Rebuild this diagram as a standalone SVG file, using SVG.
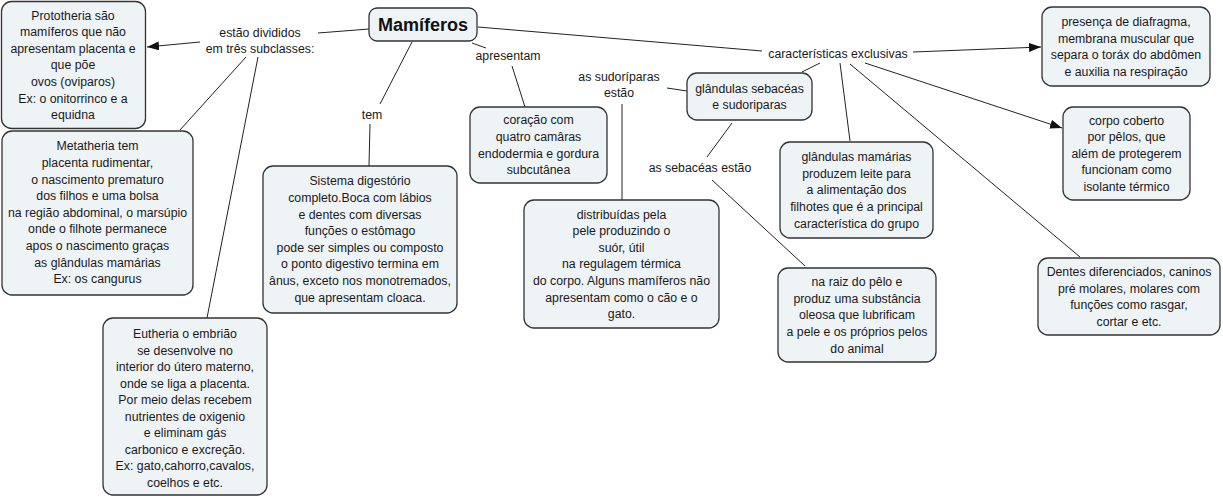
<svg xmlns="http://www.w3.org/2000/svg" width="1223" height="498" viewBox="0 0 1223 498">
<style>
.box{fill:#eef3f6;stroke:#333;stroke-width:1.3}
.t{font-family:"Liberation Sans",Arial,sans-serif;font-size:12.3px;fill:#1a1a1a;text-anchor:middle}
.title{font-family:"Liberation Sans",Arial,sans-serif;font-size:18px;font-weight:bold;fill:#111;text-anchor:middle}
.c{stroke:#222;stroke-width:1;fill:none}
.a{marker-end:url(#arr)}
</style>
<defs>
<marker id="arr" markerUnits="userSpaceOnUse" markerWidth="13" markerHeight="10" refX="12" refY="4.5" orient="auto">
<path d="M0,0 L12,4.5 L0,9 z" fill="#111"/>
</marker>
</defs>
<rect width="1223" height="498" fill="#fff"/>
<g id="connectors">
<line class="c" x1="369" y1="29" x2="318" y2="33"/>
<line class="c a" x1="200" y1="42" x2="147" y2="47"/>
<line class="c" x1="246" y1="57" x2="180" y2="130"/>
<line class="c" x1="258" y1="57" x2="207" y2="318"/>
<line class="c" x1="412" y1="42" x2="380" y2="104"/>
<line class="c" x1="370" y1="124" x2="369" y2="166"/>
<line class="c" x1="472" y1="43" x2="486" y2="48"/>
<line class="c" x1="512" y1="66" x2="525" y2="107"/>
<line class="c" x1="478" y1="27" x2="762" y2="51"/>
<line class="c" x1="820" y1="63" x2="802" y2="72"/>
<line class="c" x1="687" y1="91" x2="667" y2="88"/>
<line class="c" x1="622" y1="104" x2="622" y2="200"/>
<line class="c" x1="732" y1="123" x2="707" y2="157"/>
<line class="c" x1="712" y1="180" x2="805" y2="266"/>
<line class="c a" x1="913" y1="52" x2="1041" y2="47"/>
<line class="c a" x1="865" y1="63" x2="1062" y2="128"/>
<line class="c" x1="840" y1="63" x2="850" y2="141"/>
<line class="c" x1="850" y1="64" x2="1080" y2="257"/>
</g>
<g id="mamiferos">
<rect class="box" x="369" y="8" width="108" height="33" rx="8"/>
<text class="title" x="423" y="31">Mamíferos</text>
</g>
<g id="label-divididos">
<text class="t" x="260" y="36.5">estão divididos<tspan x="260" dy="16.2">em três subclasses:</tspan></text>
</g>
<g id="label-tem"><text class="t" x="372" y="119">tem</text></g>
<g id="label-apresentam"><text class="t" x="508" y="60">apresentam</text></g>
<g id="label-sudoriparas"><text class="t" x="619" y="81">as sudoríparas<tspan x="619" dy="16.2">estão</tspan></text></g>
<g id="label-sebaceas"><text class="t" x="700" y="172">as sebacéas estão</text></g>
<g id="label-exclusivas"><text class="t" x="838" y="58">características exclusivas</text></g>
<g id="prototheria">
<rect class="box" x="1.5" y="1.5" width="144" height="127" rx="10"/>
<text class="t" x="73" y="19.5">Prototheria são<tspan x="73" dy="16.6">mamíferos que não</tspan><tspan x="73" dy="16.6">apresentam placenta e</tspan><tspan x="73" dy="16.6">que põe</tspan><tspan x="73" dy="16.6">ovos (oviparos)</tspan><tspan x="73" dy="16.6">Ex: o onitorrinco e a</tspan><tspan x="73" dy="16.6">equidna</tspan></text>
</g>
<g id="metatheria">
<rect class="box" x="2" y="131" width="191" height="164" rx="10"/>
<text class="t" x="97.5" y="150.3">Metatheria tem<tspan x="97.5" dy="16.6">placenta rudimentar,</tspan><tspan x="97.5" dy="16.6">o nascimento prematuro</tspan><tspan x="97.5" dy="16.6">dos filhos e uma bolsa</tspan><tspan x="97.5" dy="16.6">na região abdominal, o marsúpio</tspan><tspan x="97.5" dy="16.6">onde o filhote permanece</tspan><tspan x="97.5" dy="16.6">apos o nascimento graças</tspan><tspan x="97.5" dy="16.6">as glândulas mamárias</tspan><tspan x="97.5" dy="16.6">Ex: os cangurus</tspan></text>
</g>
<g id="eutheria">
<rect class="box" x="103" y="318" width="164" height="177" rx="10"/>
<text class="t" x="185" y="338.3">Eutheria o embrião<tspan x="185" dy="16.5">se desenvolve no</tspan><tspan x="185" dy="16.5">interior do útero materno,</tspan><tspan x="185" dy="16.5">onde se liga a placenta.</tspan><tspan x="185" dy="16.5">Por meio delas recebem</tspan><tspan x="185" dy="16.5">nutrientes de oxigenio</tspan><tspan x="185" dy="16.5">e eliminam gás</tspan><tspan x="185" dy="16.5">carbonico e excreção.</tspan><tspan x="185" dy="16.5">Ex: gato,cahorro,cavalos,</tspan><tspan x="185" dy="16.5">coelhos e etc.</tspan></text>
</g>
<g id="sistema">
<rect class="box" x="263" y="166" width="194" height="147" rx="10"/>
<text class="t" x="360" y="185.3">Sistema digestório<tspan x="360" dy="16.6">completo.Boca com lábios</tspan><tspan x="360" dy="16.6">e dentes com diversas</tspan><tspan x="360" dy="16.6">funções o estômago</tspan><tspan x="360" dy="16.6">pode ser simples ou composto</tspan><tspan x="360" dy="16.6">o ponto digestivo termina em</tspan><tspan x="360" dy="16.6">ânus, exceto nos monotremados,</tspan><tspan x="360" dy="16.6">que apresentam cloaca.</tspan></text>
</g>
<g id="coracao">
<rect class="box" x="470" y="107" width="137" height="76" rx="10"/>
<text class="t" x="538.5" y="124.4">coração com<tspan x="538.5" dy="16.6">quatro camâras</tspan><tspan x="538.5" dy="16.6">endodermia e gordura</tspan><tspan x="538.5" dy="16.6">subcutânea</tspan></text>
</g>
<g id="glandulas-sebaceas">
<rect class="box" x="687" y="73" width="125" height="47" rx="10"/>
<text class="t" x="749.5" y="92.5">glândulas sebacéas<tspan x="749.5" dy="16.6">e sudoriparas</tspan></text>
</g>
<g id="distribuidas">
<rect class="box" x="524" y="200" width="195" height="128" rx="10"/>
<text class="t" x="621.5" y="218.5">distribuídas pela<tspan x="621.5" dy="16.6">pele produzindo o</tspan><tspan x="621.5" dy="16.6">suór, útil</tspan><tspan x="621.5" dy="16.6">na regulagem térmica</tspan><tspan x="621.5" dy="16.6">do corpo. Alguns mamíferos não</tspan><tspan x="621.5" dy="16.6">apresentam como o cão e o</tspan><tspan x="621.5" dy="16.6">gato.</tspan></text>
</g>
<g id="na-raiz">
<rect class="box" x="778" y="268" width="158" height="94" rx="10"/>
<text class="t" x="857" y="286.1">na raiz do pêlo e<tspan x="857" dy="16.6">produz uma substância</tspan><tspan x="857" dy="16.6">oleosa que lubrificam</tspan><tspan x="857" dy="16.6">a pele e os próprios pelos</tspan><tspan x="857" dy="16.6">do animal</tspan></text>
</g>
<g id="glandulas-mamarias">
<rect class="box" x="780" y="142" width="153" height="96" rx="10"/>
<text class="t" x="856.5" y="161.1">glândulas mamárias<tspan x="856.5" dy="16.6">produzem leite para</tspan><tspan x="856.5" dy="16.6">a alimentação dos</tspan><tspan x="856.5" dy="16.6">filhotes que é a principal</tspan><tspan x="856.5" dy="16.6">característica do grupo</tspan></text>
</g>
<g id="diafragma">
<rect class="box" x="1042" y="7" width="168" height="79" rx="10"/>
<text class="t" x="1126" y="25.9">presença de diafragma,<tspan x="1126" dy="16.6">membrana muscular que</tspan><tspan x="1126" dy="16.6">separa o toráx do abdômen</tspan><tspan x="1126" dy="16.6">e auxilia na respiração</tspan></text>
</g>
<g id="pelos">
<rect class="box" x="1063" y="107" width="127" height="93" rx="10"/>
<text class="t" x="1126.5" y="124.6">corpo coberto<tspan x="1126.5" dy="16.6">por pêlos, que</tspan><tspan x="1126.5" dy="16.6">além de protegerem</tspan><tspan x="1126.5" dy="16.6">funcionam como</tspan><tspan x="1126.5" dy="16.6">isolante térmico</tspan></text>
</g>
<g id="dentes">
<rect class="box" x="1038" y="258" width="182" height="77" rx="10"/>
<text class="t" x="1129" y="275.9">Dentes diferenciados, caninos<tspan x="1129" dy="16.6">pré molares, molares com</tspan><tspan x="1129" dy="16.6">funções como rasgar,</tspan><tspan x="1129" dy="16.6">cortar e etc.</tspan></text>
</g>
</svg>
